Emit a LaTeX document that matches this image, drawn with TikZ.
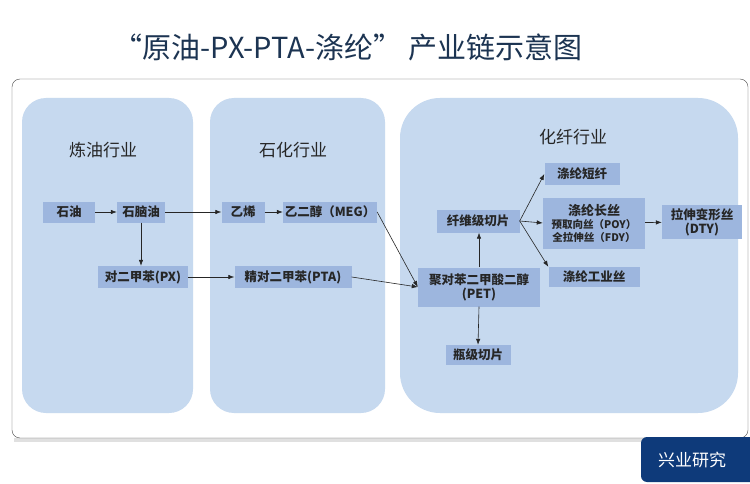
\documentclass[tikz,border=0pt]{standalone}
\usepackage{fontspec}
\newfontfamily\cjk{Noto Sans CJK SC}
\usetikzlibrary{arrows.meta,positioning}
\definecolor{panelblue}{RGB}{198,217,239}
\definecolor{boxblue}{RGB}{157,182,222}
\definecolor{titleblue}{RGB}{28,52,82}
\definecolor{tabblue}{RGB}{14,58,122}
\tikzset{
  panel/.style={fill=panelblue, rounded corners=24pt},
  paneltitle/.style={font=\cjk\fontsize{17}{20}\selectfont, text=black!85},
  item/.style={fill=boxblue, inner sep=0pt, text=black!85, font=\cjk\bfseries\fontsize{12.5}{14}\selectfont},
  flow/.style={-{Latex[length=6pt,width=4.5pt]}, line width=0.6pt, black!85},
}

\begin{document}
\begin{tikzpicture}[x=1pt,y=-1pt]
        \useasboundingbox (0,0) rectangle (750,484);
        \fill[white] (0,0) rectangle (750,484);

        % title
        \node[text=titleblue, font=\cjk\fontsize{29}{34}\selectfont] (title) at (348,47) {“原油-PX-PTA-涤纶” 产业链示意图};

        % frame and tab
        \fill[black!12] (14,438) rectangle (750,442);
        \draw[black!70, fill=white, rounded corners=8pt] (12,79) rectangle (748,438);
        \fill[tabblue, rounded corners=6pt] (641,437) rectangle (760,482);
        \node[text=white, font=\cjk\fontsize{17}{20}\selectfont] (tab) at (692,460) {兴业研究};

        % three industries
        \fill[panel] (22,98) rectangle (193,413);
        \fill[panel] (210,98) rectangle (385,413);
        \fill[panel, rounded corners=40pt] (400,98) rectangle (738,413);
        \node[paneltitle] (refining) at (103,150) {炼油行业};
        \node[paneltitle] (petrochem) at (293,150) {石化行业};
        \node[paneltitle] (fibre) at (573,137) {化纤行业};

        % boxes
        \node[item, minimum width=52pt, minimum height=21pt] (oil) at (69,212) {石油};
        \node[item, minimum width=48pt, minimum height=21pt] (naphtha) at (141,212) {石脑油};
        \node[item, minimum width=43pt, minimum height=21pt] (ethylene) at (243,212) {乙烯};
        \node[item, minimum width=94pt, minimum height=21pt] (meg) at (330,212) {乙二醇（MEG）};
        \node[item, minimum width=90pt, minimum height=22pt] (px) at (143,277) {对二甲苯(PX)};
        \node[item, minimum width=117pt, minimum height=22pt] (pta) at (293,277) {精对二甲苯(PTA)};
        \node[item, minimum width=122pt, minimum height=39pt, align=center] (pet) at (479,287) {聚对苯二甲酸二醇\\(PET)};
        \node[item, minimum width=83pt, minimum height=23pt] (chip) at (478,221) {纤维级切片};
        \node[item, minimum width=65pt, minimum height=20pt] (bottle) at (478,355) {瓶级切片};
        \node[item, minimum width=75pt, minimum height=22pt] (staple) at (582,174) {涤纶短纤};
        \node[item, minimum width=102pt, minimum height=51pt, align=center] (filament) at (594,223)
          {{\fontsize{13}{15}\selectfont 涤纶长丝}\\[-1pt]{\fontsize{10.5}{12}\selectfont 预取向丝（POY）}\\[-1pt]{\fontsize{10.5}{12}\selectfont 全拉伸丝（FDY）}};
        \node[item, minimum width=91pt, minimum height=20pt] (industrial) at (594,277) {涤纶工业丝};
        \node[item, minimum width=80pt, minimum height=34pt, align=center] (dty) at (702,222) {拉伸变形丝\\(DTY)};

        % connections
        \draw[flow] (oil) -- (naphtha);
        \draw[flow] (naphtha) -- (ethylene);
        \draw[flow] (ethylene) -- (meg);
        \draw[flow] (naphtha.south) -- (naphtha.south |- px.north);
        \draw[flow] (px) -- (pta);
        \draw[flow] (meg.east) -- (pet.west);
        \draw[flow] (pta.east) -- (pet.west);
        \draw[flow] (pet.north) -- (pet.north |- chip.south);
        \draw[flow] (pet.south) -- (bottle.north);
        \draw[flow] (chip.east) -- (staple.west);
        \draw[flow] (chip.east) -- (filament.west);
        \draw[flow] (chip.east) -- (industrial.north west);
        \draw[flow] (filament) -- (dty);

    \end{tikzpicture}
\end{document}
